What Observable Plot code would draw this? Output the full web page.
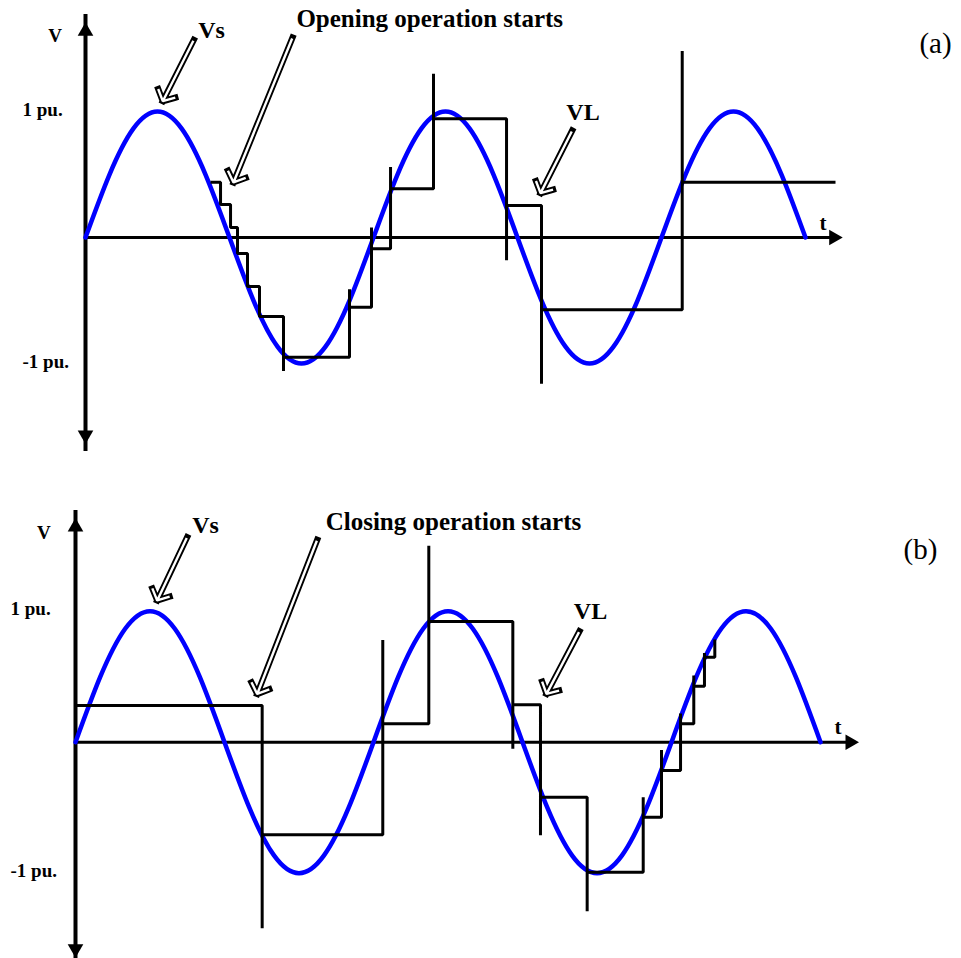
<!DOCTYPE html>
<html>
<head>
<meta charset="utf-8">
<script src="https://cdn.jsdelivr.net/npm/d3@7"></script>
<script src="https://cdn.jsdelivr.net/npm/@observablehq/plot@0.6"></script>
<style>
  html, body { margin: 0; padding: 0; background: #fff; }
  #figure svg { display: block; }
</style>
</head>
<body>
<div id="figure"></div>
<script>
// Source voltage Vs (per unit) against electrical angle (degrees), 2.5 cycles
const vsAngle = [0, 30, 60, 90, 120, 150, 180, 210, 240, 270, 300, 330, 360, 390, 420, 450,
                 480, 510, 540, 570, 600, 630, 660, 690, 720, 750, 780, 810, 840, 870, 900];
const vsValue = [0, 0.5, 0.866, 1, 0.866, 0.5, 0, -0.5, -0.866, -1, -0.866, -0.5, 0, 0.5, 0.866, 1,
                 0.866, 0.5, 0, -0.5, -0.866, -1, -0.866, -0.5, 0, 0.5, 0.866, 1, 0.866, 0.5, 0];

// (a) load voltage VL during the opening operation
const openStart = [156.3, 0.439];
const openSwitchAngle = [168.8, 181.3, 190, 202.5, 217.5, 247.5, 330, 357.5, 381.3, 435, 526.3, 570, 745.9];
const openSwitchSpike = [null, null, null, null, null, -1.06, -0.41, 0.08, 0.56, 1.30, -0.18, -1.16, 1.48];
const openSwitchLevel = [0.262, 0.079, -0.127, -0.389, -0.627, -0.95, -0.553, -0.09, 0.387, 0.942, 0.254, -0.574, 0.439];
const openEnd = 937.5;

// (b) load voltage VL during the closing operation
const closeStart = [0, 0.280];
const closeSwitchAngle = [225.5, 371.2, 426.8, 528.3, 561.7, 618.1, 685.8, 707.9, 730.9, 746.9, 759.8, 772.3];
const closeSwitchSpike = [-1.42, 0.78, 1.50, -0.05, -0.71, -1.29, -0.42, -0.06, 0.22, 0.51, 0.68, null];
const closeSwitchLevel = [-0.707, 0.140, 0.921, 0.285, -0.420, -0.992, -0.573, -0.216, 0.140, 0.427, 0.649, 0.784];
const closeEnd = null;

// y-axis tick values and their labels
const tickValues = [1, -1];
const tickLabels = ["1 pu.", "-1 pu."];

// axis extents: [t arrow tip, v top tip, v bottom tip]
const axisA = [946, 1.706, -1.635];
const axisB = [946, 1.708, -1.643];

// annotation arrows: tail (t, v) -> tip (t, v)
const arrowsA = [
  {name: "Vs",      t1: 135.4, v1: 1.569, t2: 96.6,  v2: 1.082},
  {name: "opening", t1: 258.8, v1: 1.587, t2: 185.0, v2: 0.437},
  {name: "VL",      t1: 608.4, v1: 0.849, t2: 568.8, v2: 0.352}
];
const arrowsB = [
  {name: "Vs",      t1: 134.9, v1: 1.565, t2: 98.7,  v2: 1.082},
  {name: "closing", t1: 292.0, v1: 1.545, t2: 219.5, v2: 0.368},
  {name: "VL",      t1: 608.8, v1: 0.847, t2: 569.0, v2: 0.369}
];

// text labels (t, v at baseline)
const labelsA = [
  {text: "V", t: -38.1, v: 1.550, kind: "axis"},
  {text: "Vs", t: 157.5, v: 1.585, kind: "name"},
  {text: "Opening operation starts", t: 430.3, v: 1.669, kind: "title"},
  {text: "VL", t: 621.9, v: 0.935, kind: "name"},
  {text: "t", t: 921.9, v: 0.056, kind: "t"}
];
const panelA = {text: "(a)", t: 1062.5, v: 1.463};
const labelsB = [
  {text: "V", t: -38.3, v: 1.553, kind: "axis"},
  {text: "Vs", t: 157.0, v: 1.595, kind: "name"},
  {text: "Closing operation starts", t: 456.6, v: 1.621, kind: "title"},
  {text: "VL", t: 622.1, v: 0.942, kind: "name"},
  {text: "t", t: 921.1, v: 0.059, kind: "t"}
];
const panelB = {text: "(b)", t: 1020.8, v: 1.40};

const vs = vsAngle.map((t, i) => ({t, v: vsValue[i]}));

// Build the VL polyline: at each switching instant the line jumps
// (through an optional transient spike) to the new held level.
function stepLine(start, angles, spikes, levels, end) {
  const pts = [{t: start[0], v: start[1]}];
  let prev = start[1];
  angles.forEach((t, i) => {
    pts.push({t, v: prev});
    if (spikes[i] != null) pts.push({t, v: spikes[i]});
    pts.push({t, v: levels[i]});
    prev = levels[i];
  });
  if (end != null) pts.push({t: end, v: prev});
  return pts;
}

const serif = "Liberation Serif, Times New Roman, serif";
const sizeOf = {axis: 19, name: 24, title: 25, t: 21};

function panel({xDomain, yDomain, axis, vl, arrows, labels, letter, tickDx}) {
  const [tipT, topV, botV] = axis;
  const W = 961, H = 479;
  const headOff = 8.6; // distance from triangle centre to its tip
  const wing = 13;     // arrowhead wing length in px
  const outer = 6.2, inner = 2.4;
  return Plot.plot({
    width: W, height: H,
    marginTop: 0, marginRight: 0, marginBottom: 0, marginLeft: 0,
    x: {domain: xDomain, axis: null},
    y: {domain: yDomain, axis: null},
    style: {background: "white", overflow: "visible"},
    marks: [
      // axes
      Plot.ruleY([0], {x1: 0, x2: tipT, insetRight: 8, stroke: "black", strokeWidth: 3}),
      Plot.ruleX([0], {y1: botV, y2: topV, insetTop: 8, insetBottom: 8, stroke: "black", strokeWidth: 4}),
      Plot.dot([0], {x: () => 0, y: () => topV, dy: headOff, symbol: "triangle", r: 5.8, fill: "black", stroke: null}),
      Plot.dot([0], {x: () => 0, y: () => botV, dy: -headOff, rotate: 180, symbol: "triangle", r: 5.8, fill: "black", stroke: null}),
      Plot.dot([0], {x: () => tipT, y: () => 0, dx: -headOff, rotate: 90, symbol: "triangle", r: 5.8, fill: "black", stroke: null}),
      // source voltage
      Plot.line(vs, {x: "t", y: "v", curve: "natural", stroke: "#0000ff", strokeWidth: 4.5}),
      // load voltage
      Plot.line(vl, {x: "t", y: "v", stroke: "black", strokeWidth: 3, strokeLinejoin: "miter", strokeLinecap: "butt"}),
      // hollow pointer arrows: dark outline with a white core
      Plot.arrow(arrows, {x1: "t1", y1: "v1", x2: "t2", y2: "v2", stroke: "black", strokeWidth: outer,
        headLength: wing * 1.5 / outer, headAngle: 95, strokeLinecap: "square", strokeLinejoin: "miter"}),
      Plot.arrow(arrows, {x1: "t1", y1: "v1", x2: "t2", y2: "v2", stroke: "white", strokeWidth: inner,
        headLength: wing * 1.5 / inner, headAngle: 95, insetStart: 1, strokeLinecap: "butt", strokeLinejoin: "miter"}),
      // tick labels
      Plot.text(tickValues, {x: () => 0, y: d => d, text: (d, i) => tickLabels[i], dx: tickDx, dy: 4,
        textAnchor: "start", lineAnchor: "bottom", fontFamily: serif, fontWeight: "bold", fontSize: 19, fill: "black"}),
      // labels
      ...["axis", "name", "title", "t"].map(kind =>
        Plot.text(labels.filter(d => d.kind === kind), {x: "t", y: "v", text: "text",
          lineAnchor: "bottom", fontFamily: serif, fontWeight: "bold", fontSize: sizeOf[kind], fill: "black"})),
      Plot.text([letter], {x: "t", y: "v", text: "text", lineAnchor: "bottom",
        fontFamily: serif, fontWeight: "normal", fontSize: 29, fill: "black"})
    ]
  });
}

const fig = document.getElementById("figure");
fig.appendChild(panel({
  xDomain: [-106.25, 1095], yDomain: [-1.9206, 1.881], axis: axisA,
  vl: stepLine(openStart, openSwitchAngle, openSwitchSpike, openSwitchLevel, openEnd),
  arrows: arrowsA, labels: labelsA, letter: panelA, tickDx: -63
}));
fig.appendChild(panel({
  xDomain: [-90.6, 1070.3], yDomain: [-1.6511, 2.0053], axis: axisB,
  vl: stepLine(closeStart, closeSwitchAngle, closeSwitchSpike, closeSwitchLevel, closeEnd),
  arrows: arrowsB, labels: labelsB, letter: panelB, tickDx: -65
}));
</script>
</body>
</html>
